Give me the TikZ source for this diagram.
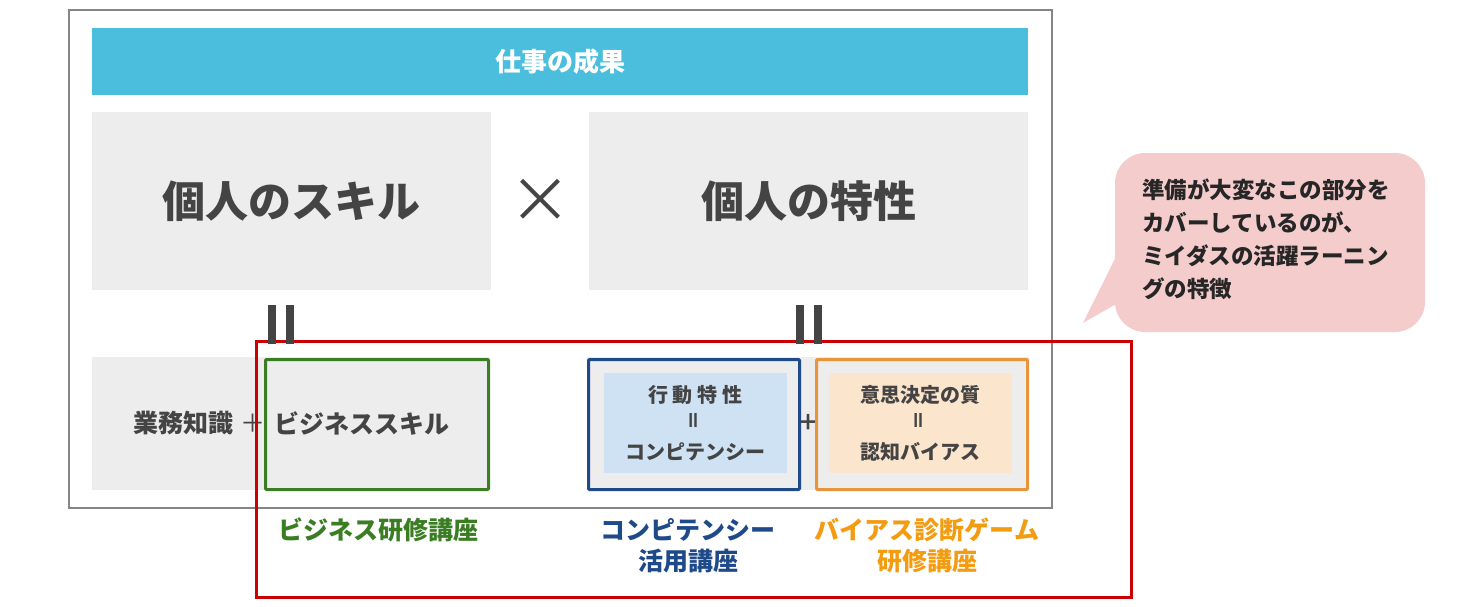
\documentclass[tikz,border=0pt]{standalone}
\usepackage{fontspec}
\setmainfont{Noto Sans CJK JP}
\usepackage{graphicx}
\usetikzlibrary{positioning,calc}
\definecolor{framegray}{HTML}{858585}
\definecolor{bannerblue}{HTML}{4BBEDE}
\definecolor{boxgray}{HTML}{EDEDED}
\definecolor{textgray}{HTML}{444444}
\definecolor{bardark}{HTML}{444444}
\definecolor{skillgreen}{HTML}{3A7D22}
\definecolor{compblue}{HTML}{1F4A8A}
\definecolor{biasorange}{HTML}{E8943A}
\definecolor{biastext}{HTML}{F39C12}
\definecolor{lightblue}{HTML}{CFE2F3}
\definecolor{peach}{HTML}{FCE5CD}
\definecolor{coverred}{HTML}{CC0000}
\definecolor{notepink}{HTML}{F4CCCC}

\begin{document}
\begin{tikzpicture}[x=1pt, y=-1pt]
	\tikzstyle{outer} = [rectangle, draw=framegray, line width=1.5pt, minimum width=983pt, minimum height=498pt, inner sep=0pt]
	\tikzstyle{banner} = [rectangle, fill=bannerblue, minimum width=936pt, minimum height=67pt, inner sep=0pt, text=white, font=\bfseries\fontsize{26}{30}\selectfont]
	\tikzstyle{panel} = [rectangle, fill=boxgray, inner sep=0pt, text=textgray, font=\bfseries\fontsize{43}{50}\selectfont]
	\tikzstyle{smalltext} = [inner sep=0pt, text=textgray, font=\bfseries\fontsize{25}{30}\selectfont]
	\tikzstyle{course} = [rectangle, line width=3pt, rounded corners=1pt, minimum width=211pt, minimum height=130pt, inner sep=0pt]
	\tikzstyle{inbox} = [rectangle, minimum width=183pt, minimum height=100pt, inner sep=0pt, align=center, text=textgray, font=\bfseries\fontsize{20}{28.5}\selectfont]
	\tikzstyle{coursetext} = [inner sep=0pt, align=center, font=\bfseries\fontsize{25}{31}\selectfont]
	\tikzstyle{eqbar} = [rectangle, fill=bardark, minimum width=8pt, minimum height=39pt, inner sep=0pt]
	\useasboundingbox (0,0) rectangle (1463,606);

	\node (frame) [outer] at (560.5,259) {};
	\node (result) [banner] at (560,61.5) {仕事の成果};
	\node (skill) [panel, minimum width=399pt, minimum height=178pt] at (291.5,201) {個人のスキル};
	\node (trait) [panel, minimum width=439pt, minimum height=178pt] at (808.5,201) {個人の特性};
	\node (times) [text=textgray, font=\fontsize{62}{62}\selectfont] at ($(skill.east)!0.5!(trait.west)$) {×};

	% lower row
	\node (knowbg) [panel, minimum width=398pt, minimum height=133pt] at (291,423.5) {};
	\node (knowledge) [smalltext] at (183,423) {業務知識};
	\node (plusA) [smalltext, font=\fontsize{25}{30}\selectfont] at (253,423) {＋};
	\node (bizbox) [course, draw=skillgreen, minimum width=223pt] at (377,424.5) {};
	\node (bizskill) [smalltext] at (362,423) {ビジネススキル};

	\node (traitbg) [panel, minimum width=442pt, minimum height=133pt] at (808,423.5) {};
	\node (compbox) [course, draw=compblue] at (694,424.5) {};
	\node (compin) [inbox, fill=lightblue] at (695.5,423) {行\hspace{5pt}動\hspace{5pt}特\hspace{5pt}性\\\rotatebox{90}{＝}\\コンピテンシー};
	\node (plusB) [smalltext, font=\bfseries\fontsize{22}{26}\selectfont] at (808,422) {＋};
	\node (biasbox) [course, draw=biasorange] at (922,424.5) {};
	\node (biasin) [inbox, fill=peach] at (920.5,423) {意思決定の質\\\rotatebox{90}{＝}\\認知バイアス};

	% courses
	\node (cover) [rectangle, draw=coverred, line width=3pt, minimum width=875pt, minimum height=256pt, inner sep=0pt] at (693.5,469) {};
	\node (eqL1) [eqbar] at (272,324.5) {};
	\node (eqL2) [eqbar] at (289.5,324.5) {};
	\node (eqR1) [eqbar] at (799.5,324.5) {};
	\node (eqR2) [eqbar] at (817.5,324.5) {};
	\node (bizcourse) [coursetext, text=skillgreen] at (378,530) {ビジネス研修講座};
	\node (compcourse) [coursetext, text=compblue] at (688,545.5) {コンピテンシー\\活用講座};
	\node (biascourse) [coursetext, text=biastext] at (927,545.5) {バイアス診断ゲーム\\研修講座};

	% callout
	\node (note) [rectangle, rounded corners=30pt, fill=notepink, minimum width=310pt, minimum height=179pt, inner sep=0pt] at (1270,242.5) {};
	\fill[notepink] ($(note.west)+(3,10.5)$) -- (1083,323) -- ($(note.west)+(3,60.5)$) -- cycle;
	\node (notetext) [anchor=west, align=left, inner sep=0pt, text=black!85, font=\bfseries\fontsize{22.5}{33}\selectfont] at (1142,239) {準備が大変なこの部分を\\カバーしているのが、\\ミイダスの活躍ラーニン\\グの特徴};
\end{tikzpicture}
\end{document}
